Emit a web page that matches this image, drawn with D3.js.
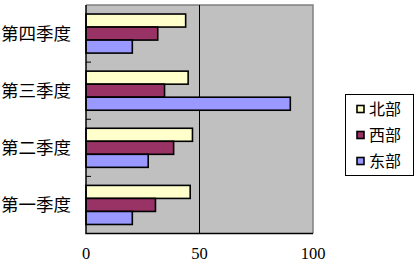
<!DOCTYPE html>
<html lang="zh">
<head>
<meta charset="utf-8">
<script src="https://cdn.jsdelivr.net/npm/d3@7"></script>
<style>
  body { margin: 0; background: #fff; }
  .cat { font-family: "Noto Sans CJK SC", sans-serif; font-size: 17.5px; fill: #000; }
  .tick-x { font-family: "Liberation Serif", serif; font-size: 16.5px; fill: #000; }
  .leg { font-family: "Noto Sans CJK SC", sans-serif; font-size: 16px; fill: #000; }
</style>
</head>
<body>
<svg id="chart" width="420" height="264"></svg>
<script>
// data (Excel sample style)
const quarters = ["第一季度", "第二季度", "第三季度", "第四季度"]
const seriesNames = ["北部", "西部", "东部"]
const east  = [20.4, 27.4, 90, 20.4]
const west  = [30.6, 38.6, 34.6, 31.6]
const north = [45.9, 46.9, 45, 43.9]
const xTicks = [0, 50, 100]
const colors = ["#FFFFCC", "#993366", "#9999FF"]

const values = { "北部": north, "西部": west, "东部": east }

const svg = d3.select("#chart")
const plot = { left: 86, right: 313, top: 5, bottom: 233.5 }

const x = d3.scaleLinear().domain([0, 100]).range([plot.left, plot.right])
const y = d3.scaleBand()
    .domain(quarters.slice().reverse())
    .range([plot.top, plot.bottom])
    .paddingInner(0.316)
    .paddingOuter(0.158)
const yIn = d3.scaleBand().domain(seriesNames).range([0, y.bandwidth()])

// plot background
svg.append("rect")
    .attr("x", plot.left).attr("y", plot.top)
    .attr("width", plot.right - plot.left).attr("height", plot.bottom - plot.top)
    .attr("fill", "#C0C0C0")

// gray top / right border
svg.append("path")
    .attr("d", `M${plot.left},${plot.top}H${plot.right}V${plot.bottom}`)
    .attr("fill", "none").attr("stroke", "#808080").attr("stroke-width", 1.5)

// gridline at 50
svg.append("line")
    .attr("x1", x(50)).attr("x2", x(50))
    .attr("y1", plot.top).attr("y2", plot.bottom)
    .attr("stroke", "#000").attr("stroke-width", 1)

// bars
const groups = svg.selectAll("g.cat")
    .data(quarters)
    .join("g")
    .attr("transform", d => `translate(0,${y(d)})`)

groups.selectAll("rect")
    .data((q, i) => seriesNames.map((s, j) => ({ s, v: values[s][quarters.indexOf(q)], c: colors[j] })))
    .join("rect")
    .attr("x", x(0))
    .attr("y", d => yIn(d.s))
    .attr("width", d => x(d.v) - x(0))
    .attr("height", yIn.bandwidth())
    .attr("fill", d => d.c)
    .attr("stroke", "#000")
    .attr("stroke-width", 1.6)

// category ticks at band boundaries (inside)
for (let k = 1; k < quarters.length; k++) {
    const yy = plot.top + k * (plot.bottom - plot.top) / quarters.length
    svg.append("line")
        .attr("x1", plot.left).attr("x2", plot.left + 5)
        .attr("y1", yy).attr("y2", yy)
        .attr("stroke", "#000").attr("stroke-width", 1)
}

// axes lines
svg.append("path")
    .attr("d", `M${plot.left},${plot.top}V${plot.bottom}H${plot.right}`)
    .attr("fill", "none").attr("stroke", "#000").attr("stroke-width", 1.5)

// category labels
svg.selectAll("text.cat")
    .data(quarters)
    .join("text")
    .attr("class", "cat")
    .attr("x", 1)
    .attr("y", d => y(d) + y.bandwidth() / 2)
    .attr("dy", "0.36em")
    .text(d => d)

// x labels
svg.selectAll("text.tick-x")
    .data(xTicks)
    .join("text")
    .attr("class", "tick-x")
    .attr("x", d => x(d))
    .attr("y", 253)
    .attr("dy", "0.35em")
    .attr("text-anchor", "middle")
    .text(d => d)

// legend
const leg = svg.append("g")
leg.append("rect")
    .attr("x", 345.5).attr("y", 94.5).attr("width", 68).attr("height", 81)
    .attr("fill", "#fff").attr("stroke", "#000").attr("stroke-width", 1)

const legY = d3.scalePoint().domain(seriesNames).range([109, 161])
const items = leg.selectAll("g.item")
    .data(seriesNames)
    .join("g")
    .attr("transform", d => `translate(0,${legY(d)})`)
items.append("rect")
    .attr("x", 357).attr("y", -3.5).attr("width", 7).attr("height", 7)
    .attr("fill", (d, i) => colors[i]).attr("stroke", "#000").attr("stroke-width", 1.6)
items.append("text")
    .attr("class", "leg")
    .attr("x", 369)
    .attr("dy", "0.36em")
    .text(d => d)
</script>
</body>
</html>
